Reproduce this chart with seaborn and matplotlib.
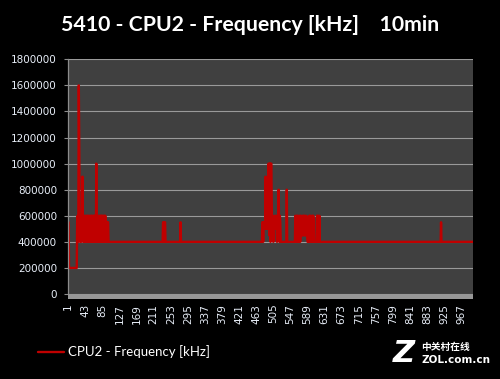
import numpy as np
import pandas as pd
import matplotlib
matplotlib.use("Agg")
import matplotlib.pyplot as plt
import seaborn as sns
from matplotlib.patches import Rectangle

# ---------------- data ----------------
n_points = 995
baseline = 400000

burst_a_start = 0
burst_a = [550000, 550000] + [200000] * 20 + [
    550000, 600000, 400000, 600000, 1600000, 1200000, 600000, 400000, 600000, 550000,
    400000, 600000, 600000, 900000, 600000, 400000, 400000, 600000, 550000, 400000,
    600000, 600000, 400000, 400000, 600000, 400000, 600000, 600000, 550000, 400000,
    600000, 400000, 400000, 600000, 600000, 400000, 600000, 550000, 400000, 600000,
    600000, 400000, 600000, 400000, 600000, 550000, 400000, 1000000, 400000, 600000,
    600000, 400000, 400000, 600000, 550000, 400000, 600000, 600000, 400000, 600000,
    600000, 400000, 600000, 600000, 550000, 400000, 600000, 600000, 400000, 600000,
    550000, 400000, 550000, 550000, 400000, 550000, 550000, 400000]

burst_b_start = 233
burst_b = [550000, 550000, 400000, 400000, 550000, 550000]

burst_c_start = 276
burst_c = [550000]

burst_d_start = 477
burst_d = [
    550000, 550000, 400000, 550000, 550000, 500000, 550000, 550000, 900000, 500000,
    500000, 550000, 500000, 600000, 500000, 1000000, 1000000, 450000, 1000000, 1000000,
    400000, 1000000, 1000000, 700000, 500000, 600000, 500000, 400000, 550000, 500000,
    500000, 600000, 500000, 500000, 600000, 550000, 400000, 600000, 600000, 500000,
    800000, 550000, 400000, 600000, 550000, 400000, 400000, 400000, 400000, 400000,
    400000, 400000, 400000, 400000, 400000, 400000, 400000, 400000, 400000, 400000,
    800000, 400000]

burst_e_start = 558
burst_e = [
    600000, 550000, 400000, 600000, 600000, 400000, 600000, 550000, 400000, 400000,
    600000, 600000, 400000, 600000, 450000, 450000, 450000, 600000, 450000, 450000,
    600000, 600000, 450000, 600000, 450000, 450000, 450000, 600000, 450000, 450000,
    400000, 400000, 400000, 400000, 600000, 600000, 400000, 600000, 400000, 400000,
    400000, 600000, 600000, 400000, 600000, 550000, 400000, 400000, 400000, 400000,
    400000, 400000, 400000, 600000, 600000, 400000, 600000, 550000, 400000, 600000,
    400000]

burst_f_start = 916
burst_f = [550000]

x_tick_labels = [str(v) for v in range(1, 968, 42)]
y_ticks = [0, 200000, 400000, 600000, 800000, 1000000, 1200000, 1400000, 1600000, 1800000]

title_text = "5410 - CPU2 - Frequency [kHz]    10min"
series_name = "CPU2 - Frequency [kHz]"

# ---------------- build series ----------------
values = [baseline] * n_points
for start, seg in [(burst_a_start, burst_a), (burst_b_start, burst_b), (burst_c_start, burst_c),
                   (burst_d_start, burst_d), (burst_e_start, burst_e), (burst_f_start, burst_f)]:
    for i, v in enumerate(seg):
        values[start + i] = v
df = pd.DataFrame({"idx": np.arange(n_points), "freq": values})

# ---------------- figure ----------------
sns.set_theme(style="dark")
W, H = 500, 379
fig = plt.figure(figsize=(W / 100, H / 100), dpi=100, facecolor="black")
left, right, top, bottom = 68, 473, 59.3, 294
ax = fig.add_axes([left / W, 1 - bottom / H, (right - left) / W, (bottom - top) / H])
ax.set_facecolor("#404040")

sns.lineplot(data=df, x="idx", y="freq", ax=ax, color="#C00000", linewidth=1.7,
             estimator=None, label=series_name, legend=False)

ax.set_xlim(-0.5, n_points - 0.5)
ax.set_ylim(0, 1800000)
ax.set_yticks(y_ticks)
ax.set_yticklabels([str(v) for v in y_ticks])
ax.set_xticks(range(0, 967, 42))
ax.set_xticklabels(x_tick_labels, rotation=90)
ax.set_xlabel("")
ax.set_ylabel("")

ax.grid(True, axis="y", color="#9a9a9a", linewidth=0.8)
ax.grid(False, axis="x")
ax.set_axisbelow(True)
for s in ["top", "right", "bottom"]:
    ax.spines[s].set_visible(False)
ax.spines["left"].set_color("#8c8c8c")
ax.spines["left"].set_linewidth(0.9)

ax.tick_params(axis="y", length=3, width=0.8, color="#8c8c8c", pad=5,
               labelsize=7.5, labelcolor="#e8eef8", left=True)
ax.tick_params(axis="x", length=0, pad=7, labelsize=7.5, labelcolor="#e8eef8", bottom=True)
for lab in ax.get_xticklabels() + ax.get_yticklabels():
    lab.set_family("DejaVu Sans")

# floor band under the plot
ax.add_patch(Rectangle((0, -5 / (bottom - top)), 1, 5 / (bottom - top), transform=ax.transAxes,
                       facecolor="#979797", edgecolor="none", clip_on=False, zorder=3))

# title
fig.text(250 / W, 1 - 25 / H, title_text, color="white", fontsize=15.3, fontweight="bold",
         family=["Lato", "DejaVu Sans"], ha="center", va="center")

# legend
handles, labels = ax.get_legend_handles_labels()
leg = fig.legend(handles, labels, loc="center left", bbox_to_anchor=(38 / W, 1 - 352 / H),
                 frameon=False, borderpad=0, borderaxespad=0, handlelength=2.0,
                 handletextpad=0.25, prop={"family": "Lato", "size": 9.5})
for t in leg.get_texts():
    t.set_color("white")

# watermark
fig.text(404 / W, 1 - 354 / H, "Z", color="white", fontsize=22, fontweight="bold",
         style="italic", family="DejaVu Sans", ha="center", va="center")
fig.text(421 / W, 1 - 347 / H, "中关村在线", color="white", fontsize=7, fontweight="bold",
         family=["Noto Sans CJK SC", "DejaVu Sans"], ha="left", va="center")
fig.text(421 / W, 1 - 360 / H, "ZOL.com.cn", color="white", fontsize=7.5, fontweight="bold",
         family="DejaVu Sans", ha="left", va="center")

fig.savefig("out.png", dpi=100, facecolor="black")
